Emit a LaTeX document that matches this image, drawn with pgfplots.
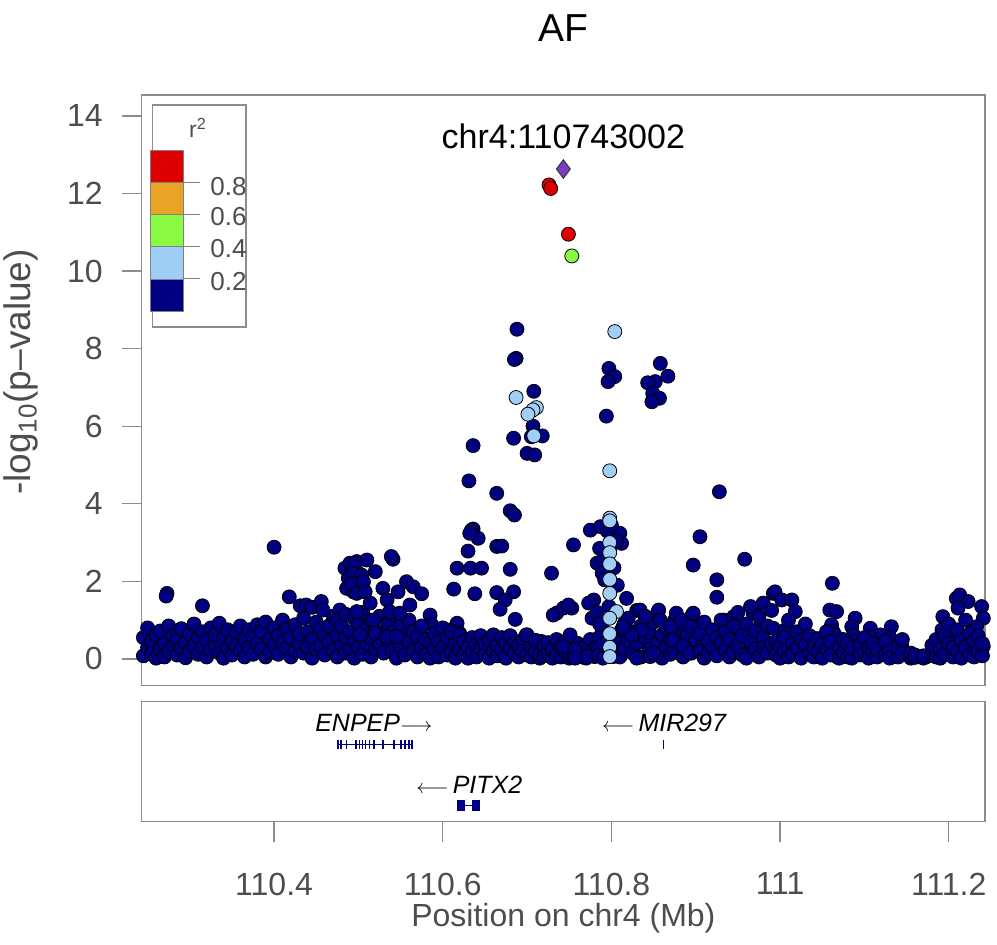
\documentclass[border=0pt]{standalone}
\usepackage{pgfplots}
\pgfplotsset{compat=1.18}
\usepackage{fontspec}
\setmainfont{Liberation Sans}
\definecolor{ldnavy}{RGB}{0,0,128}
\definecolor{ldblue}{RGB}{160,206,245}
\definecolor{ldgreen}{RGB}{137,250,65}
\definecolor{ldorange}{RGB}{233,163,38}
\definecolor{ldred}{RGB}{222,0,0}
\definecolor{ldpurple}{RGB}{124,58,200}
\definecolor{edge}{RGB}{60,60,60}
\definecolor{framegray}{RGB}{140,140,140}
\definecolor{txtgray}{RGB}{77,77,77}
\newcommand{\rarr}{{\fontsize{10}{12}\selectfont$\longrightarrow$}}
\newcommand{\larr}{{\fontsize{10}{12}\selectfont$\longleftarrow$}}
\pgfplotsset{
  lzpts/.style={only marks, mark=*, mark size=3.5pt, mark options={draw=edge, line width=0.55pt}},
  lzframe/.style={axis line style={framegray, line width=0.65pt}, every tick/.style={framegray, line width=0.65pt},
     tick align=outside, major tick length=10pt,
     /pgf/number format/assume math mode=true,
     tick label style={font=\fontsize{16}{19}\selectfont, text=txtgray}},
}
\begin{document}
\begin{tikzpicture}
\path[use as bounding box] (0pt,0pt) rectangle (498.5pt,472.5pt);
% ---------------- association panel
\begin{axis}[
  lzframe,
  at={(70.85pt,129.65pt)}, anchor=south west,
  scale only axis, width=421.65pt, height=295.35pt,
  xmin=110.243, xmax=111.243, ymin=-0.69, ymax=14.54,
  xtick=\empty,
  ytick={0,2,4,6,8,10,12,14},
  ytick pos=left,
  yticklabel style={anchor=east, xshift=-6pt},
]
% r2 < 0.2
\addplot[lzpts, mark options={fill=ldnavy}] coordinates {
(110.245,0.08)(110.245,0.55)(110.250,0.30)(110.250,0.80)(110.255,0.45)(110.255,0.15)(110.260,0.02)(110.260,0.62)
(110.265,0.72)(110.265,0.25)(110.270,0.40)(110.270,0.05)(110.275,0.85)(110.275,0.18)(110.280,0.35)(110.280,0.60)
(110.285,0.10)(110.285,0.50)(110.290,0.78)(110.290,0.28)(110.295,0.42)(110.295,0.03)(110.300,0.65)(110.300,0.20)
(110.305,0.90)(110.305,0.35)(110.310,0.12)(110.310,0.55)(110.315,0.30)(110.315,0.70)(110.320,0.05)(110.320,0.48)
(110.325,0.80)(110.325,0.22)(110.330,0.38)(110.330,0.62)(110.335,0.15)(110.335,0.92)(110.340,0.55)(110.340,0.02)
(110.345,0.28)(110.345,0.75)(110.350,0.45)(110.350,0.10)(110.355,0.68)(110.355,0.33)(110.360,0.20)(110.360,0.85)
(110.365,0.50)(110.365,0.05)(110.370,0.75)(110.370,0.30)(110.375,0.12)(110.375,0.58)(110.380,0.40)(110.380,0.88)
(110.273,1.69)(110.272,1.62)(110.315,1.37)(110.400,2.88)
(110.385,0.25)(110.385,0.70)(110.390,0.05)(110.390,0.95)(110.395,0.50)(110.395,0.18)(110.400,0.80)(110.400,0.35)
(110.405,0.12)(110.405,0.60)(110.410,1.00)(110.410,0.42)(110.415,0.28)(110.415,0.75)(110.420,0.05)(110.420,0.55)
(110.425,0.88)(110.425,0.20)(110.430,0.40)(110.430,0.65)(110.435,0.15)(110.435,1.05)(110.440,0.70)(110.440,0.30)
(110.445,0.52)(110.445,0.02)(110.450,0.95)(110.450,0.25)(110.455,0.35)(110.455,0.78)(110.460,0.10)(110.460,0.60)
(110.465,0.85)(110.465,0.45)(110.470,0.22)(110.470,1.10)
(110.418,1.60)(110.431,1.37)(110.438,1.39)(110.445,1.33)(110.456,1.48)(110.458,1.26)(110.478,1.26)
(110.475,0.05)(110.475,0.60)(110.475,1.00)(110.480,0.35)(110.480,0.85)(110.485,0.15)(110.485,1.15)(110.485,0.55)
(110.490,0.70)(110.490,0.25)(110.495,0.45)(110.495,1.05)(110.495,0.02)(110.500,0.90)(110.500,0.30)(110.505,0.60)
(110.505,0.12)(110.505,1.20)(110.510,0.40)(110.510,0.80)(110.515,0.05)(110.515,1.00)(110.515,0.55)(110.520,0.75)
(110.520,0.25)(110.525,0.38)(110.525,1.10)(110.530,0.15)(110.530,0.65)(110.535,0.92)(110.535,0.48)(110.540,0.20)
(110.540,0.70)(110.540,1.15)(110.545,0.55)(110.545,0.02)(110.550,0.85)(110.550,0.35)(110.555,0.10)(110.555,0.60)
(110.560,0.45)(110.560,1.00)
(110.484,2.34)(110.490,2.47)(110.498,2.51)(110.488,2.08)(110.494,1.99)(110.500,2.21)(110.486,1.82)(110.494,1.73)
(110.496,2.47)(110.510,2.55)(110.494,2.21)(110.504,2.16)(110.520,2.25)(110.492,1.95)(110.506,1.99)(110.498,1.69)
(110.508,1.73)(110.529,1.82)(110.541,2.57)(110.539,2.64)(110.557,1.99)(110.565,1.86)(110.575,1.68)(110.547,1.73)
(110.534,1.52)(110.514,1.44)(110.561,1.39)(110.537,1.22)(110.549,1.18)(110.498,1.22)(110.518,1.00)(110.502,0.62)
(110.520,0.66)(110.534,0.57)(110.545,0.57)(110.585,1.13)(110.587,0.88)(110.573,0.66)(110.617,0.92)(110.609,0.75)
(110.593,0.66)(110.620,0.66)
(110.565,0.20)(110.565,0.70)(110.570,0.55)(110.570,0.05)(110.575,0.85)(110.575,0.30)(110.580,0.12)(110.580,0.50)
(110.585,0.40)(110.585,0.02)(110.590,0.65)(110.590,0.25)(110.595,0.05)(110.595,0.45)(110.600,0.30)(110.600,0.80)
(110.605,0.55)(110.605,0.10)(110.610,0.18)(110.610,0.70)(110.615,0.40)(110.615,0.02)(110.620,0.62)(110.620,0.22)
(110.625,0.10)(110.625,0.45)(110.630,0.30)(110.630,0.02)(110.635,0.55)(110.635,0.18)(110.640,0.05)(110.640,0.38)
(110.645,0.25)(110.645,0.60)(110.650,0.12)(110.650,0.40)(110.655,0.48)(110.655,0.02)(110.660,0.20)(110.660,0.62)
(110.665,0.35)(110.665,0.08)(110.670,0.55)(110.670,0.22)(110.675,0.02)(110.675,0.40)(110.680,0.28)(110.680,0.60)
(110.685,0.15)(110.685,0.45)(110.690,0.05)(110.690,0.35)(110.695,0.50)(110.695,0.20)(110.700,0.10)(110.700,0.62)
(110.688,8.50)(110.687,7.75)(110.685,7.72)(110.708,6.90)(110.707,6.00)(110.718,5.75)(110.705,5.73)(110.684,5.69)
(110.700,5.30)(110.709,5.26)(110.636,5.50)(110.631,4.59)(110.664,4.27)(110.680,3.82)(110.685,3.71)(110.636,3.35)
(110.634,3.32)(110.642,3.11)(110.632,3.24)(110.630,2.78)(110.664,2.90)(110.670,2.91)(110.617,2.34)(110.633,2.34)
(110.646,2.34)(110.680,2.31)(110.729,2.21)(110.613,1.80)(110.638,1.68)(110.664,1.71)(110.684,1.73)(110.674,1.52)
(110.668,1.28)(110.686,1.02)(110.735,1.18)(110.731,1.13)(110.743,1.31)(110.699,0.62)(110.717,0.45)(110.735,0.32)
(110.743,0.15)
(110.705,0.05)(110.705,0.30)(110.710,0.20)(110.710,0.48)(110.715,0.02)(110.715,0.12)(110.720,0.35)(110.720,0.08)
(110.725,0.15)(110.725,0.42)(110.730,0.02)(110.730,0.25)(110.735,0.50)(110.735,0.10)(110.740,0.05)(110.740,0.30)
(110.745,0.20)(110.745,0.45)(110.750,0.02)(110.750,0.12)(110.755,0.32)(110.755,0.05)(110.760,0.15)(110.760,0.40)
(110.765,0.05)(110.765,0.25)(110.770,0.35)(110.770,0.02)(110.775,0.12)(110.775,0.50)(110.780,0.28)(110.780,0.06)
(110.775,3.32)(110.787,3.41)(110.810,3.24)(110.812,2.98)(110.783,2.47)(110.790,2.55)(110.789,2.21)(110.792,2.04)
(110.779,1.52)(110.773,1.44)(110.818,1.56)(110.777,1.05)(110.789,0.79)(110.812,0.75)(110.818,0.62)(110.824,0.36)
(110.783,0.32)(110.790,0.15)(110.802,0.06)(110.755,2.94)(110.753,1.31)(110.749,1.39)(110.751,0.62)(110.743,0.32)
(110.757,0.23)(110.771,0.06)(110.757,0.02)
(110.795,3.30)(110.800,3.45)(110.806,3.05)(110.798,2.80)(110.786,2.85)(110.803,2.35)(110.807,1.90)(110.783,1.20)
(110.797,1.35)(110.786,0.90)
(110.797,7.49)(110.804,7.28)(110.796,7.15)(110.794,6.26)
(110.858,7.62)(110.867,7.29)(110.852,7.15)(110.843,7.12)(110.849,6.85)(110.857,6.72)(110.848,6.63)
(110.905,3.15)(110.897,2.42)(110.925,2.04)(110.925,1.59)(110.958,2.57)(110.928,4.31)
(110.785,0.10)(110.785,0.55)(110.790,0.40)(110.790,0.02)(110.800,0.60)(110.800,0.20)(110.810,0.05)(110.810,0.42)
(110.815,0.90)(110.815,0.25)(110.820,0.48)(110.820,1.05)(110.825,0.15)(110.825,0.70)(110.830,1.25)(110.830,0.40)
(110.835,0.05)(110.835,0.85)(110.840,0.55)(110.840,1.10)(110.845,0.25)(110.845,0.68)(110.850,0.95)(110.850,0.10)
(110.855,0.40)(110.855,1.20)(110.860,0.02)(110.860,0.62)(110.865,0.80)(110.865,0.30)(110.870,0.12)(110.870,0.50)
(110.875,1.00)(110.875,0.22)(110.880,0.42)(110.880,0.70)(110.885,0.05)(110.885,0.90)(110.890,0.60)(110.890,0.25)
(110.895,0.15)(110.895,1.10)(110.900,0.48)(110.900,0.80)
(110.834,1.26)(110.840,1.09)(110.856,1.26)(110.858,1.00)(110.877,1.18)(110.883,1.00)(110.897,1.18)(110.895,0.83)
(110.870,0.83)(110.873,0.49)(110.885,0.32)(110.893,0.15)(110.909,0.40)(110.929,0.32)(110.933,1.00)(110.945,1.09)
(110.947,0.75)(110.960,0.57)(110.964,0.32)(110.968,1.18)(110.980,1.44)(110.992,1.69)(110.976,0.83)(110.984,0.32)
(110.992,0.15)(110.830,0.02)(110.846,0.06)(110.850,0.15)(110.836,0.75)(110.824,0.62)(110.814,0.83)
(110.905,0.20)(110.905,0.65)(110.910,0.02)(110.910,0.95)(110.915,0.45)(110.915,0.15)(110.920,0.75)(110.920,0.30)
(110.925,0.08)(110.925,0.55)(110.930,1.00)(110.930,0.40)(110.935,0.22)(110.935,0.70)(110.940,0.05)(110.940,0.50)
(110.945,0.85)(110.945,0.18)(110.950,0.35)(110.950,1.20)(110.955,0.60)(110.955,0.10)(110.960,0.02)(110.960,0.90)
(110.965,0.45)(110.965,1.35)(110.970,0.25)(110.970,0.72)(110.975,0.05)(110.975,1.10)(110.980,0.55)(110.980,0.30)
(110.985,0.15)(110.985,0.85)(110.990,0.40)(110.990,1.25)
(110.994,1.73)(111.002,1.52)(111.014,1.52)(111.018,1.22)(110.992,0.79)(111.006,0.75)
(111.059,1.26)(111.067,1.22)(111.089,1.05)(111.085,0.83)(111.061,0.88)(111.063,0.70)(111.065,0.62)(111.087,0.62)
(111.087,0.45)(111.083,0.19)(111.107,0.79)(111.119,0.62)(111.132,0.83)(111.130,0.56)(111.120,0.32)(111.144,0.36)
(111.146,0.19)(111.107,0.57)(111.062,1.95)
(111.028,0.70)(111.041,0.53)(111.012,0.23)(111.032,0.15)(111.047,0.06)(111.067,0.06)(111.154,0.06)(111.166,0.06)
(111.174,0.06)
(110.995,0.10)(110.995,0.45)(111.000,0.30)(111.000,0.02)(111.005,0.55)(111.005,0.20)(111.010,0.05)(111.010,1.00)
(111.015,0.40)(111.015,0.12)(111.020,0.70)(111.020,0.28)(111.025,0.02)(111.025,0.48)(111.030,0.35)(111.030,0.90)
(111.035,0.15)(111.035,0.60)(111.040,0.30)(111.040,0.05)(111.045,0.52)(111.045,0.18)(111.050,0.02)(111.050,0.38)
(111.055,0.25)(111.055,0.70)(111.060,0.10)(111.060,0.45)(111.070,0.30)(111.070,0.02)(111.075,0.15)(111.075,0.50)
(111.080,0.40)(111.080,0.05)(111.085,0.02)(111.085,0.28)(111.095,0.35)(111.095,0.10)(111.100,0.15)(111.100,0.55)
(111.105,0.02)(111.105,0.30)(111.110,0.20)(111.110,0.40)(111.115,0.05)(111.115,0.25)(111.125,0.10)(111.125,0.45)
(111.130,0.20)(111.130,0.02)(111.140,0.05)(111.140,0.30)(111.145,0.15)(111.145,0.50)(111.155,0.02)(111.155,0.15)
(111.160,0.04)(111.160,0.10)(111.170,0.02)(111.170,0.08)(111.180,0.10)(111.180,0.35)
(111.193,1.09)(111.192,0.75)(111.209,1.56)(111.213,1.65)(111.223,1.48)(111.239,1.35)(111.241,1.05)(111.233,0.83)
(111.211,1.31)(111.209,0.57)(111.225,0.53)(111.198,0.32)(111.217,0.32)(111.233,0.23)(111.241,0.32)
(111.185,0.05)(111.185,0.50)(111.190,0.25)(111.190,0.02)(111.195,0.60)(111.195,0.12)(111.200,0.40)(111.200,0.90)
(111.205,0.05)(111.205,0.30)(111.210,0.75)(111.210,0.18)(111.215,0.02)(111.215,0.48)(111.220,0.30)(111.220,1.00)
(111.225,0.10)(111.225,0.65)(111.230,0.45)(111.230,0.05)(111.235,0.20)(111.235,0.60)(111.240,0.08)(111.240,0.40)
};
% 0.2 - 0.4
\addplot[lzpts, mark options={fill=ldblue}] coordinates {
(110.687,6.74)(110.711,6.48)(110.707,6.42)(110.701,6.31)(110.708,5.75)(110.804,8.44)(110.798,4.85)(110.798,3.63)
(110.798,3.56)(110.798,3.00)(110.798,2.74)(110.798,2.45)(110.798,2.05)(110.798,1.69)(110.806,1.22)(110.798,1.05)
(110.798,0.65)(110.798,0.30)(110.798,0.06)
};
% 0.4 - 0.6
\addplot[lzpts, mark options={fill=ldgreen}] coordinates {(110.753,10.39)};
% 0.8 - 1
\addplot[lzpts, mark options={fill=ldred}] coordinates {(110.726,12.22)(110.728,12.13)(110.749,10.95)};
% index SNP
\addplot[only marks, mark=diamond*, mark size=4.6pt, mark options={fill=ldpurple, draw=edge, line width=0.55pt}] coordinates {(110.743,12.63)};
\node[anchor=base, font=\fontsize{17}{20}\selectfont, inner sep=0pt] at (axis cs:110.743,13.17) {chr4:110743002};
\end{axis}
% ---------------- gene panel
\begin{axis}[
  lzframe,
  at={(70.85pt,61.65pt)}, anchor=south west,
  scale only axis, width=421.65pt, height=60pt,
  xmin=110.243, xmax=111.243, ymin=0, ymax=1,
  ytick=\empty,
  xtick={110.4,110.6,110.8,111,111.2},
  xticklabels={110.4,110.6,110.8,111,111.2},
  xtick pos=bottom,
  xticklabel style={anchor=north, yshift=-12pt},
]
% ENPEP
\addplot[ldnavy, line width=0.6pt] coordinates {(110.4755,0.64)(110.5636,0.64)};
\addplot[only marks, mark=|, mark size=2.2pt, mark options={ldnavy, line width=0.8pt}] coordinates {
(110.4755,0.64)(110.4795,0.64)(110.4860,0.64)(110.4970,0.64)(110.5015,0.64)(110.5047,0.64)(110.5086,0.64)
(110.5131,0.64)(110.5183,0.64)(110.5294,0.64)(110.5423,0.64)(110.5507,0.64)(110.5552,0.64)(110.5599,0.64)(110.5636,0.64)};
% MIR297
\addplot[only marks, mark=|, mark size=2.2pt, mark options={ldnavy, line width=0.5pt}] coordinates {(110.862,0.64)};
% PITX2
\addplot[ldnavy, line width=0.6pt] coordinates {(110.6174,0.137)(110.6432,0.137)};
\addplot[ldnavy, fill=ldnavy, line width=0.3pt] coordinates {(110.6174,0.093)(110.6251,0.093)(110.6251,0.181)(110.6174,0.181)} -- cycle;
\addplot[ldnavy, fill=ldnavy, line width=0.3pt] coordinates {(110.6345,0.093)(110.6432,0.093)(110.6432,0.181)(110.6345,0.181)} -- cycle;
\node[anchor=west, inner sep=0pt, font=\fontsize{12.5}{15}\selectfont\itshape] at (axis cs:110.4484,0.82) {ENPEP\rarr};
\node[anchor=west, inner sep=0pt, font=\fontsize{12.5}{15}\selectfont\itshape] at (axis cs:110.7885,0.82) {\larr\,MIR297};
\node[anchor=west, inner sep=0pt, font=\fontsize{12.5}{15}\selectfont\itshape] at (axis cs:110.5683,0.306) {\larr\,PITX2};
\end{axis}
% ---------------- titles
\node[font=\fontsize{19.5}{22}\selectfont] at (281.7pt,458.5pt) {AF};
\node[font=\fontsize{16}{19}\selectfont, text=txtgray] at (281.7pt,13.5pt) {Position on chr4 (Mb)};
\node[rotate=90, font=\fontsize{18.5}{21}\selectfont, text=txtgray] at (10.5pt,286.5pt) {-log\textsubscript{10}(p–value)};
% ---------------- r2 legend
\draw[framegray, line width=0.65pt, fill=white] (76.35pt,309pt) rectangle (123pt,420pt);
\filldraw[fill=ldnavy, draw=gray, line width=0.4pt] (75pt,317pt) rectangle (91.65pt,333pt);
\filldraw[fill=ldblue, draw=gray, line width=0.4pt] (75pt,333pt) rectangle (91.65pt,349.15pt);
\filldraw[fill=ldgreen, draw=gray, line width=0.4pt] (75pt,349.15pt) rectangle (91.65pt,365.35pt);
\filldraw[fill=ldorange, draw=gray, line width=0.4pt] (75pt,365.35pt) rectangle (91.65pt,381.35pt);
\filldraw[fill=ldred, draw=gray, line width=0.4pt] (75pt,381.35pt) rectangle (91.65pt,397.5pt);
\foreach \yy in {333,349.15,365.35,381.35} \draw[gray, line width=0.5pt] (91.65pt,\yy pt) -- (100pt,\yy pt);
\node[anchor=west, inner sep=0pt, font=\fontsize{13}{15}\selectfont, text=txtgray] at (105pt,379.2pt) {0.8};
\node[anchor=west, inner sep=0pt, font=\fontsize{13}{15}\selectfont, text=txtgray] at (105pt,364.2pt) {0.6};
\node[anchor=west, inner sep=0pt, font=\fontsize{13}{15}\selectfont, text=txtgray] at (105pt,348.3pt) {0.4};
\node[anchor=west, inner sep=0pt, font=\fontsize{13}{15}\selectfont, text=txtgray] at (105pt,331.6pt) {0.2};
\node[font=\fontsize{11.5}{13}\selectfont, text=txtgray] at (99pt,408.5pt) {r\textsuperscript{2}};
\end{tikzpicture}
\end{document}
